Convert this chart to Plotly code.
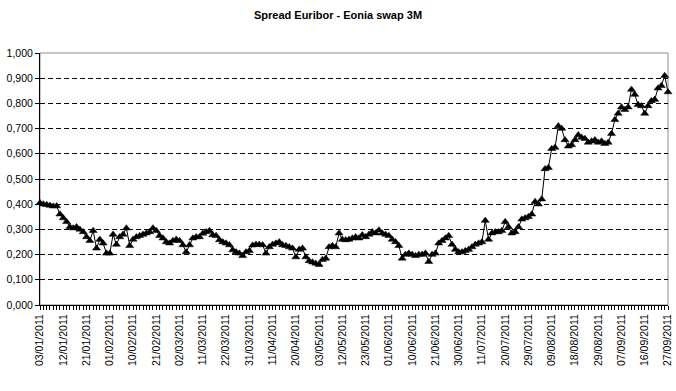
import pandas as pd
import plotly.graph_objects as go

# Business days (TARGET calendar: Good Friday / Easter Monday closed)
dates = pd.bdate_range("2011-01-03", "2011-09-27", freq="C",
                       holidays=["2011-04-22", "2011-04-25"])
categories = [d.strftime("%d/%m/%Y") for d in dates]

tick_labels = ["03/01/2011", "12/01/2011", "21/01/2011", "01/02/2011", "10/02/2011",
               "21/02/2011", "02/03/2011", "11/03/2011", "22/03/2011", "31/03/2011",
               "11/04/2011", "20/04/2011", "03/05/2011", "12/05/2011", "23/05/2011",
               "01/06/2011", "10/06/2011", "21/06/2011", "30/06/2011", "11/07/2011",
               "20/07/2011", "29/07/2011", "09/08/2011", "18/08/2011", "29/08/2011",
               "07/09/2011", "16/09/2011", "27/09/2011"]

spread_q1 = [0.405, 0.400, 0.398, 0.395, 0.392, 0.393, 0.360, 0.345, 0.330, 0.310,
             0.305, 0.310, 0.300, 0.290, 0.270, 0.255, 0.295, 0.225, 0.260, 0.245,
             0.205, 0.205, 0.280, 0.240, 0.270, 0.280, 0.305, 0.235, 0.260, 0.270,
             0.275, 0.280, 0.285, 0.290, 0.305, 0.295, 0.275, 0.265, 0.250, 0.245,
             0.255, 0.260, 0.255, 0.238, 0.210, 0.238, 0.265, 0.270, 0.270, 0.284,
             0.290, 0.295, 0.278, 0.275, 0.258, 0.250, 0.245, 0.238, 0.218, 0.210,
             0.205, 0.195, 0.210]
spread_q2 = [0.215, 0.237, 0.240, 0.240, 0.238, 0.205, 0.230, 0.240, 0.245, 0.250,
             0.238, 0.235, 0.230, 0.225, 0.190, 0.220, 0.225, 0.190, 0.175, 0.170,
             0.165, 0.160, 0.180, 0.185, 0.230, 0.235, 0.230, 0.285, 0.260, 0.258,
             0.260, 0.265, 0.270, 0.265, 0.278, 0.270, 0.280, 0.290, 0.285, 0.297,
             0.285, 0.280, 0.275, 0.260, 0.250, 0.235, 0.185, 0.200, 0.205, 0.200,
             0.195, 0.200, 0.200, 0.205, 0.172, 0.200, 0.205, 0.245, 0.255, 0.265,
             0.275, 0.240, 0.220, 0.210]
spread_q3 = [0.210, 0.215, 0.220, 0.230, 0.240, 0.245, 0.250, 0.335, 0.260, 0.285,
             0.290, 0.290, 0.295, 0.330, 0.310, 0.285, 0.290, 0.310, 0.340, 0.345,
             0.350, 0.360, 0.410, 0.400, 0.420, 0.540, 0.545, 0.620, 0.625, 0.710,
             0.700, 0.655, 0.630, 0.635, 0.655, 0.675, 0.665, 0.660, 0.645, 0.650,
             0.655, 0.645, 0.650, 0.640, 0.645, 0.680, 0.735, 0.760, 0.785, 0.775,
             0.785, 0.855, 0.835, 0.795, 0.790, 0.760, 0.790, 0.810, 0.815, 0.860,
             0.870, 0.910, 0.845]
spread = spread_q1 + spread_q2 + spread_q3

n = min(len(categories), len(spread))
categories = categories[:n]
spread = spread[:n]

ticktext = [c if c in tick_labels else "" for c in categories]

fig = go.Figure()
fig.add_trace(go.Scatter(
    x=categories, y=spread, mode="lines+markers",
    line=dict(color="#000000", width=1),
    marker=dict(symbol="triangle-up", size=7, color="#000000",
                line=dict(color="#000000", width=0.5)),
    cliponaxis=False, showlegend=False,
))

fig.update_layout(
    width=676, height=391,
    margin=dict(l=40, r=8, t=53, b=86),
    paper_bgcolor="white", plot_bgcolor="white",
    separators=",.",
    font=dict(family="Liberation Sans, Arial, sans-serif", size=10, color="#000000"),
    title=dict(text="<b>Spread Euribor - Eonia swap 3M</b>", x=0.5, xanchor="center",
               y=0.962, yanchor="middle",
               font=dict(size=11, family="Liberation Sans, Arial, sans-serif")),
    shapes=[dict(type="rect", xref="paper", yref="paper", x0=0, x1=1, y0=0, y1=1,
                 line=dict(color="#8c8c8c", width=1), layer="below")],
)

fig.update_xaxes(
    type="category", range=[0, n - 1], automargin=False,
    tickmode="array", tickvals=categories, ticktext=ticktext,
    tickangle=-90, ticks="outside", ticklen=4, tickcolor="#000000", tickwidth=1,
    showline=True, linecolor="#000000", linewidth=1,
    showgrid=False, zeroline=False,
    tickfont=dict(size=10.5),
)
fig.update_yaxes(
    range=[0, 1.0], tickmode="linear", tick0=0, dtick=0.1, tickformat=".3f",
    automargin=False,
    ticks="outside", ticklen=4, tickcolor="#000000",
    showline=True, linecolor="#000000", linewidth=1,
    showgrid=True, gridcolor="#000000", gridwidth=1, griddash="5px,3px",
    zeroline=False, tickfont=dict(size=10.5),
)

fig.write_html("out.html",
               config={"displayModeBar": False},
               post_script="document.body.style.margin='0px';document.body.style.overflow='hidden';")
